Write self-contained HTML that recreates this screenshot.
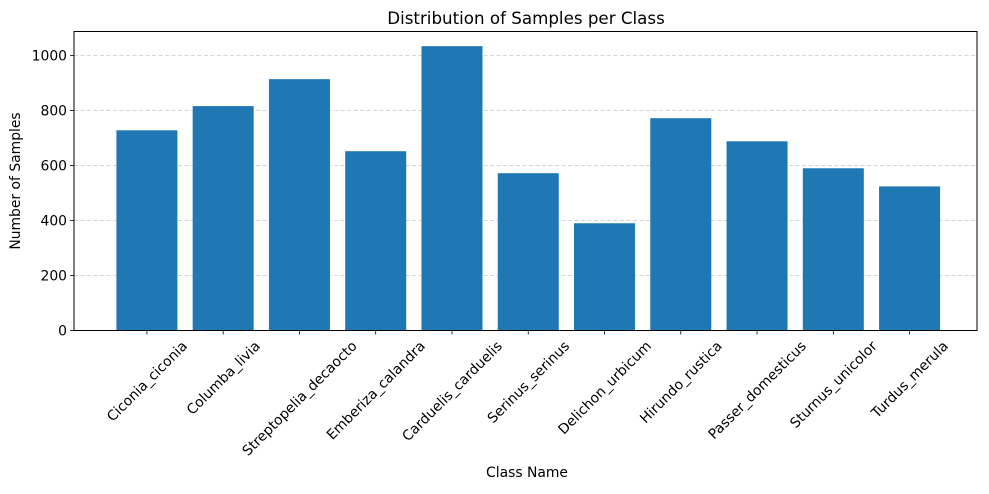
<!DOCTYPE html>
<html><head><meta charset="utf-8"><style>
body{margin:0;background:#fff;}
svg text{font-family:"DejaVu Sans","Liberation Sans",sans-serif;fill:#000;}
</style></head><body>
<svg id="chart" width="989" height="489" xmlns="http://www.w3.org/2000/svg">
<text x="526" y="24" text-anchor="middle" font-size="16.7">Distribution of Samples per Class</text>
<g id="grid"></g><g id="bars"></g><g id="axes"></g>
<text x="527" y="477" text-anchor="middle" font-size="13.9">Class Name</text>
<text transform="translate(20,181) rotate(-90)" text-anchor="middle" font-size="13.9">Number of Samples</text>
</svg>
<script>
const categories=["Ciconia_ciconia","Columba_livia","Streptopelia_decaocto","Emberiza_calandra","Carduelis_carduelis","Serinus_serinus","Delichon_urbicum","Hirundo_rustica","Passer_domesticus","Sturnus_unicolor","Turdus_merula"];
const values=[728,816,914,652,1034,572,390,772,688,590,524];
const yTicks=[0,200,400,600,800,1000];
const L=74,R=977,T=31.5,B=330.5;
const xmin=-0.956,xmax=10.884;
function x(i){return L+(i-xmin)/(xmax-xmin)*(R-L);}
function y(v){return B-v*0.275;}
const NS="http://www.w3.org/2000/svg";
function mk(tag,attrs,parent,text){const e=document.createElementNS(NS,tag);for(const k in attrs)e.setAttribute(k,attrs[k]);if(text!==undefined)e.textContent=text;document.getElementById(parent).appendChild(e);return e;}
yTicks.forEach(t=>{
 const g=mk('line',{x1:L,x2:R,y1:y(t),y2:y(t),stroke:'#c8c8c8','stroke-dasharray':'4,2.5','stroke-width':0.8},'grid');
 
 
 const tk=mk('line',{x1:L-4,x2:L,y1:y(t),y2:y(t),stroke:'#000','stroke-width':0.8},'axes');
 
 
 const tl=mk('text',{x:L-7,y:y(t)+5,'text-anchor':'end','font-size':13.9},'axes',t);
 
 
});
const w=0.8*(R-L)/(xmax-xmin);
values.forEach((v,i)=>{
 const b=mk('rect',{x:x(i)-w/2,y:y(v),width:w,height:B-y(v),fill:'#1f77b4'},'bars');
 
 
 const tk=mk('line',{x1:x(i),x2:x(i),y1:B,y2:B+4,stroke:'#000','stroke-width':0.8},'axes');
 
 
 const tl=mk('text',{x:x(i),y:B,'text-anchor':'middle','font-size':13.9,dy:'0.35em'},'axes',categories[i]);
 
 
 const len=tl.getComputedTextLength();
 const cy=B+8+(len+13.9)*0.7071/2;
 tl.setAttribute('y',cy);
 tl.setAttribute('transform',`rotate(-45 ${x(i)} ${cy})`);
});
const f=mk('rect',{x:L,y:T,width:R-L,height:B-T,fill:'none',stroke:'#000','stroke-width':1},'axes');


</script>
</body></html>
